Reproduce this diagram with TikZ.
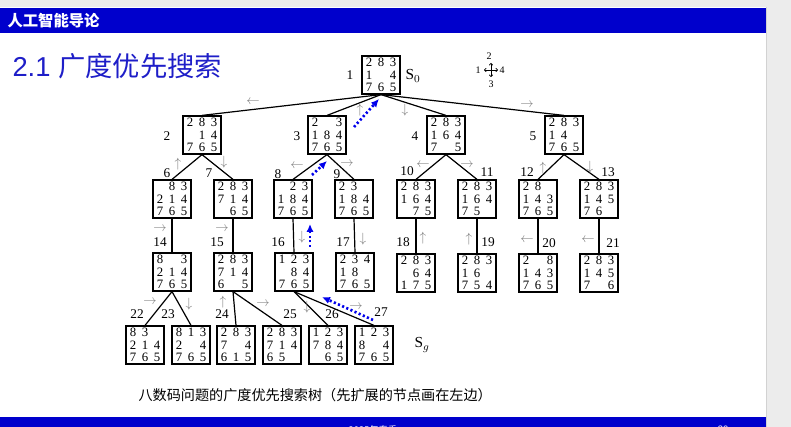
\documentclass[tikz,border=0pt]{standalone}
\usepackage{fontspec}
\setmainfont{Liberation Serif}
\newfontfamily\cjkfont{Noto Sans CJK SC}
\newfontfamily\arialfont{Liberation Sans}
\usetikzlibrary{arrows.meta}

\definecolor{slideblue}{RGB}{0,0,204}
\definecolor{titleblue}{RGB}{30,30,200}
\definecolor{pathblue}{RGB}{0,0,235}
\definecolor{framegray}{RGB}{236,236,236}

\tikzset{every picture/.style={line width=0.75pt}}
\tikzset{
  board/.style={draw, line width=0.9pt, minimum size=28.5pt, inner sep=0pt},
  tile/.style={inner sep=0pt, font=\fontsize{9.6}{10}\selectfont},
  lbl/.style={inner sep=0.75pt, font=\fontsize{10}{11}\selectfont},
  dir/.style={inner sep=0pt, text=gray, font=\normalsize},
  edge/.style={line width=0.9pt},
  back/.style={pathblue, line width=2pt, dash pattern={on 1.6pt off 1.8pt}, -{Latex[length=6pt,width=5.5pt]}},
}

% one board of the eight puzzle: name, x, y, nine tiles (0 = blank)
\newcommand{\puzzlebox}[4]{%
  \node[board] (#1) at (#2,#3) {};
  \foreach \v [count=\k from 0] in {#4} {
    \pgfmathtruncatemacro{\cc}{mod(\k,3)}
    \pgfmathtruncatemacro{\rr}{floor(\k/3)}
    \ifnum\v>0 \node[tile] (#1-\k) at ({#2+12*(\cc-1)},{#3+12.5*(\rr-1)}) {\v}; \fi
  }
}

\begin{document}
\begin{tikzpicture}[x=0.75pt,y=0.75pt,yscale=-1,xscale=1]
	\useasboundingbox (0,0) rectangle (791,427);
	\clip (0,0) rectangle (791,427);
	
	%Slide frame
	\fill[framegray] (0,0) rectangle (791,427);
	\fill[white] (0,7) rectangle (766,427);
	\draw[gray!35, line width=0.5pt] (766,7) -- (766,427);
	\fill[slideblue] (0,8) rectangle (766,33);
	\fill[slideblue] (0,417) rectangle (766,427);
	
	% Text Node
	\node[anchor=west, inner sep=0pt, text=white, font=\cjkfont\bfseries\fontsize{11.5}{12}\selectfont] (head) at (7,20.5) {人工智能导论};
	% Text Node
	\node[anchor=west, inner sep=0pt, text=titleblue] (title) at (12,66) {\fontsize{20.5}{24}\selectfont\arialfont 2.1 \cjkfont 广度优先搜索};
	% Text Node
	\node[anchor=west, inner sep=0pt, font=\cjkfont\fontsize{10.6}{12}\selectfont] (caption) at (138,395) {八数码问题的广度优先搜索树（先扩展的节点画在左边）};
	% Text Node
	\node[inner sep=0pt, text=white, font=\cjkfont\fontsize{7}{8}\selectfont] (term) at (373,429.5) {2025年春季};
	% Text Node
	\node[inner sep=0pt, text=white, font=\arialfont\fontsize{7}{8}\selectfont] (page) at (723,429.5) {30};
	
	%Boards
	\puzzlebox{b1}{381}{75}{2,8,3,1,0,4,7,6,5}
	\puzzlebox{b2}{202}{135}{2,8,3,0,1,4,7,6,5}
	\puzzlebox{b3}{327}{135}{2,0,3,1,8,4,7,6,5}
	\puzzlebox{b4}{446}{135}{2,8,3,1,6,4,7,0,5}
	\puzzlebox{b5}{564}{135}{2,8,3,1,4,0,7,6,5}
	\puzzlebox{b6}{172}{199}{0,8,3,2,1,4,7,6,5}
	\puzzlebox{b7}{233}{199}{2,8,3,7,1,4,0,6,5}
	\puzzlebox{b8}{293}{199}{0,2,3,1,8,4,7,6,5}
	\puzzlebox{b9}{354}{199}{2,3,0,1,8,4,7,6,5}
	\puzzlebox{b10}{416}{199}{2,8,3,1,6,4,0,7,5}
	\puzzlebox{b11}{477}{199}{2,8,3,1,6,4,7,5,0}
	\puzzlebox{b12}{538}{199}{2,8,0,1,4,3,7,6,5}
	\puzzlebox{b13}{599}{199}{2,8,3,1,4,5,7,6,0}
	\puzzlebox{b14}{172}{272}{8,0,3,2,1,4,7,6,5}
	\puzzlebox{b15}{233}{272}{2,8,3,7,1,4,6,0,5}
	\puzzlebox{b16}{294}{272}{1,2,3,0,8,4,7,6,5}
	\puzzlebox{b17}{355}{272}{2,3,4,1,8,0,7,6,5}
	\puzzlebox{b18}{416}{273}{2,8,3,0,6,4,1,7,5}
	\puzzlebox{b19}{477}{273}{2,8,3,1,6,0,7,5,4}
	\puzzlebox{b20}{538}{273}{2,0,8,1,4,3,7,6,5}
	\puzzlebox{b21}{599}{273}{2,8,3,1,4,5,7,0,6}
	\puzzlebox{b22}{145}{345}{8,3,0,2,1,4,7,6,5}
	\puzzlebox{b23}{191}{345}{8,1,3,2,0,4,7,6,5}
	\puzzlebox{b24}{236}{345}{2,8,3,7,0,4,6,1,5}
	\puzzlebox{b25}{282}{345}{2,8,3,7,1,4,6,5,0}
	\puzzlebox{b26}{328}{345}{1,2,3,7,8,4,0,6,5}
	\puzzlebox{b27}{374}{345}{1,2,3,8,0,4,7,6,5}
	
	%Tree edges
	\foreach \p/\c in {b1/b2,b1/b3,b1/b4,b1/b5,b2/b6,b2/b7,b3/b8,b3/b9,b4/b10,b4/b11,b5/b12,b5/b13,
	                   b6/b14,b7/b15,b8/b16,b9/b17,b10/b18,b11/b19,b12/b20,b13/b21,
	                   b14/b22,b14/b23,b15/b24,b15/b25,b16/b26,b16/b27}
	  \draw[edge] (\p.south) -- (\c.north);
	
	%Order numbers
	\foreach \n/\x/\y in {1/350/75,2/167/136,3/297/136,4/415/136,5/533/136,
	                      6/167/173,7/209/173,8/278/174,9/337/174,10/407/171,11/487/172,12/527/172,13/608/172,
	                      14/160/242,15/217/242,16/278/242,17/343/242,18/403/242,19/488/242,20/549/243,21/613/243,
	                      22/137/314,23/168/314,24/222/314,25/290/314,26/332/314,27/381/312}
	  \node[lbl] (n\n) at (\x,\y) {\n};
	% Text Node
	\node[lbl, anchor=west, font=\fontsize{11.5}{12}\selectfont] (start) at (404,76) {S$_0$};
	% Text Node
	\node[lbl, anchor=west, font=\fontsize{11.5}{12}\selectfont] (goal) at (413,345) {S$_g$};
	
	%Move directions
	\foreach \d/\x/\y [count=\i] in {\leftarrow/253/102,\uparrow/360/110,\downarrow/405/110,\rightarrow/527/105,
	                     \uparrow/178/164,\downarrow/224/162,\leftarrow/297/166,\rightarrow/347/164,
	                     \leftarrow/423/165,\rightarrow/467/165,\uparrow/543/168,\downarrow/590/167,
	                     \rightarrow/160/229,\rightarrow/222/229,\downarrow/302/237,\downarrow/363/239,
	                     \uparrow/423/238,\uparrow/469/239,\leftarrow/527/240,\leftarrow/588/240,
	                     \rightarrow/150/302,\downarrow/189/304,\uparrow/223/302,\rightarrow/263/304,
	                     \downarrow/307/307,\rightarrow/356/307}
	  \node[dir] (d\i) at (\x,\y) {$\d$};
	
	%Compass of moves
	\coordinate (cmp) at (491,70);
	\foreach \dx/\dy in {0/-7,0/7,-7/0,7/0}
	  \draw[line width=0.5pt, -{To[length=1.8pt,width=3pt]}] (cmp) -- ++(\dx,\dy);
	\node[lbl, font=\fontsize{7.5}{8}\selectfont] (c2) at (489,56) {2};
	\node[lbl, font=\fontsize{7.5}{8}\selectfont] (c1) at (478,70) {1};
	\node[lbl, font=\fontsize{7.5}{8}\selectfont] (c4) at (502,70) {4};
	\node[lbl, font=\fontsize{7.5}{8}\selectfont] (c3) at (491,84) {3};
	
	%Solution path back to the root
	\coordinate (p1) at (373,320);
	\coordinate (p2) at (322,297);
	\coordinate (p3) at (310,247);
	\coordinate (p4) at (310,224);
	\coordinate (p5) at (312,175);
	\coordinate (p6) at (327,161);
	\coordinate (p7) at (354,127);
	\coordinate (p8) at (379,99);
	\draw[back] (p1) -- (p2);
	\draw[back] (p3) -- (p4);
	\draw[back] (p5) -- (p6);
	\draw[back] (p7) -- (p8);
	
\end{tikzpicture}
\end{document}
